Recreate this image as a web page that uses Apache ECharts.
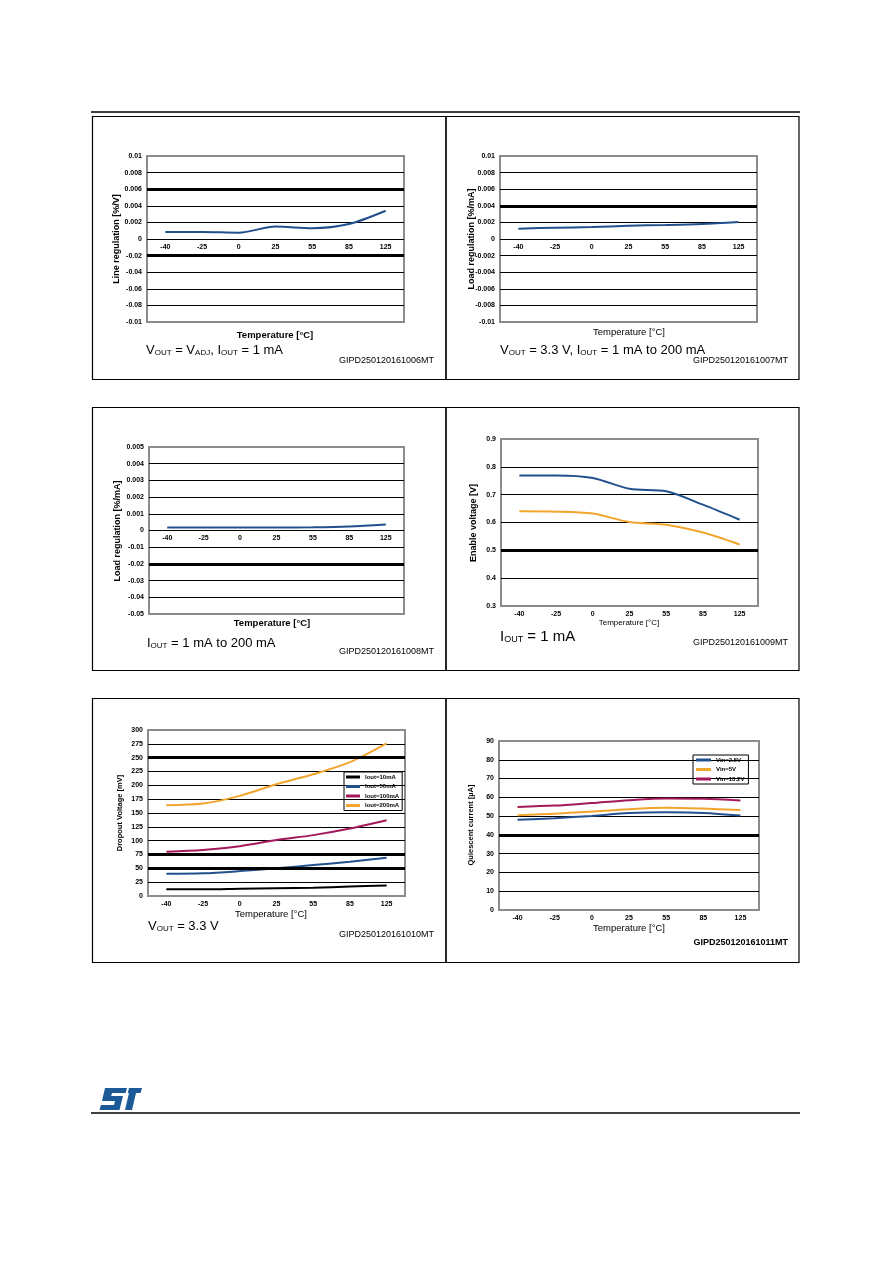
<!DOCTYPE html>
<html>
<head>
<meta charset="utf-8">
<script src="https://cdn.jsdelivr.net/npm/echarts@6/dist/echarts.min.js"></script>
<style>
  html, body { margin: 0; padding: 0; background: #fff; }
  #page { width: 892px; height: 1261px; }
</style>
</head>
<body>
<div id="page"></div>
<script>
var temps = ["-40", "-25", "0", "25", "55", "85", "125"];

// line regulation [%/V], VOUT = VADJ, IOUT = 1 mA
var lineReg = [0.00084, 0.00084, 0.00076, 0.0015, 0.0013, 0.0018, 0.0034];
var lineRegTicks = ["-0.01", "-0.08", "-0.06", "-0.04", "-0.02", "0", "0.002", "0.004", "0.006", "0.008", "0.01"];

// load regulation [%/mA], VOUT = 3.3 V
var loadReg33 = [0.00124, 0.00136, 0.00144, 0.0016, 0.00168, 0.0018, 0.00204];
var loadReg33Ticks = ["-0.01", "-0.008", "-0.006", "-0.004", "-0.002", "0", "0.002", "0.004", "0.006", "0.008", "0.01"];

// load regulation [%/mA], IOUT = 1 mA to 200 mA
var loadReg = [0.00018, 0.00018, 0.00018, 0.00018, 0.00019, 0.00024, 0.00036];
var loadRegTicks = ["-0.05", "-0.04", "-0.03", "-0.02", "-0.01", "0", "0.001", "0.002", "0.003", "0.004", "0.005"];

// enable voltage [V]
var enableHigh = [0.769, 0.769, 0.76, 0.721, 0.712, 0.664, 0.61];
var enableLow = [0.64, 0.639, 0.632, 0.602, 0.592, 0.564, 0.521];

// dropout voltage [mV]
var dropNames = ["Iout=10mA", "Iout=50mA", "Iout=100mA", "Iout=200mA"];
var drop10 = [12, 12, 13, 14, 15, 17, 19];
var drop50 = [40, 41, 45, 50, 56, 62, 69];
var drop100 = [80, 83, 90, 101, 110, 122, 137];
var drop200 = [164, 167, 181, 202, 220, 242, 276];

// quiescent current [uA]
var iqNames = ["Vin=2.5V", "Vin=5V", "Vin=13.2V"];
var iq25 = [48.0, 48.9, 50.1, 51.6, 52.0, 51.7, 50.3];
var iq5 = [50.5, 51.2, 52.4, 53.7, 54.4, 54.0, 53.3];
var iq132 = [54.9, 55.6, 57.0, 58.5, 59.4, 59.2, 58.3];

var arial = "Liberation Sans, Arial, sans-serif";
var narrow = "Liberation Sans Narrow, Liberation Sans, Arial, sans-serif";
var blue = "#22508c", orange = "#f2a52c", magenta = "#a3195b";

function tickText(ticks, min, step) {
  return function (v) {
    return ticks[Math.round((v - min) / step)] || "";
  };
}

// labelMargin < 0 pulls the temperature labels up to the zero line
function xAx(i, labelMargin) {
  return {
    type: "category", gridIndex: i, data: temps, boundaryGap: true,
    axisLine: { show: false, onZero: false },
    axisTick: { show: false },
    splitLine: { show: false },
    axisLabel: { fontSize: 7, fontWeight: "bold", fontFamily: narrow, color: "#000", margin: labelMargin }
  };
}

function yAx(i, min, max, step, ticks) {
  return {
    type: "value", gridIndex: i, min: min, max: max, interval: step,
    axisLine: { show: false }, axisTick: { show: false },
    splitLine: { show: true, showMinLine: false, showMaxLine: false, lineStyle: { color: "#000", width: 1 } },
    axisLabel: {
      fontSize: 7, fontWeight: "bold", fontFamily: narrow, color: "#000", margin: 5,
      formatter: ticks ? tickText(ticks, min, step) : undefined
    }
  };
}

function line(name, data, i, color) {
  return {
    name: name, type: "line", xAxisIndex: i, yAxisIndex: i, data: data,
    smooth: 0.3, symbol: "none", z: 3,
    lineStyle: { color: color, width: 2 }, itemStyle: { color: color }
  };
}

// the heavier gridlines seen in the printed figure
function heavy(i, values) {
  return {
    type: "line", xAxisIndex: i, yAxisIndex: i, data: [], z: 1, silent: true,
    markLine: {
      silent: true, symbol: "none", precision: 6, label: { show: false },
      lineStyle: { color: "#000", width: 3, type: "solid" },
      data: values.map(function (v) { return { yAxis: v }; })
    }
  };
}

function text(x, y, str, size, opts) {
  opts = opts || {};
  var al = opts.align || "center";
  return {
    type: "text", x: x, y: y, rotation: opts.rot || 0, silent: true,
    style: {
      text: str, fill: "#000",
      fontSize: size, fontFamily: opts.family || narrow, fontWeight: opts.weight || "normal",
      align: al, textAlign: al, verticalAlign: "middle", textVerticalAlign: "middle"
    }
  };
}

function richText(x, y, str, size) {
  return {
    type: "text", x: x, y: y, silent: true,
    style: {
      text: str, fill: "#000", align: "left", textAlign: "left",
      verticalAlign: "middle", textVerticalAlign: "middle",
      rich: {
        m: { fontSize: size, fontFamily: arial, fill: "#000", lineHeight: size + 3, verticalAlign: "bottom" },
        s: { fontSize: Math.round(size * 0.6), fontFamily: arial, fill: "#000", lineHeight: Math.round(size * 0.6), verticalAlign: "bottom" }
      }
    }
  };
}

function box(x1, y1, x2, y2) {
  return {
    type: "rect", silent: true,
    shape: { x: x1, y: y1, width: x2 - x1, height: y2 - y1 },
    style: { fill: "none", stroke: "#000", lineWidth: 1.2 }
  };
}

var grids = [
  { left: 147, top: 156, width: 257, height: 166 },
  { left: 500, top: 156, width: 257, height: 166 },
  { left: 149, top: 447, width: 255, height: 167 },
  { left: 501, top: 439, width: 257, height: 167 },
  { left: 148, top: 730, width: 257, height: 166 },
  { left: 499, top: 741, width: 260, height: 169 }
];
grids.forEach(function (g) {
  g.show = true;
  g.borderColor = "#8c8c8c";
  g.borderWidth = 2;
  g.containLabel = false;
});

var chart = echarts.init(document.getElementById("page"), null, { renderer: "canvas" });

var option = {
  backgroundColor: "#fff",
  animation: false,
  grid: grids,
  xAxis: [xAx(0, -78), xAx(1, -78), xAx(2, -79), xAx(3, 5), xAx(4, 5), xAx(5, 5)],
  yAxis: [
    yAx(0, -0.01, 0.01, 0.002, lineRegTicks),
    yAx(1, -0.01, 0.01, 0.002, loadReg33Ticks),
    yAx(2, -0.005, 0.005, 0.001, loadRegTicks),
    yAx(3, 0.3, 0.9, 0.1),
    yAx(4, 0, 300, 25),
    yAx(5, 0, 90, 10)
  ],
  legend: [
    {
      data: dropNames, orient: "vertical", left: 344, top: 772,
      icon: "rect", itemWidth: 14, itemHeight: 3, itemGap: 3.5,
      borderColor: "#000", borderWidth: 1, padding: [2, 3, 2, 2],
      textStyle: { fontSize: 6, fontWeight: "bold", fontFamily: narrow, color: "#000" }
    },
    {
      data: iqNames, orient: "vertical", left: 693, top: 755,
      icon: "rect", itemWidth: 15, itemHeight: 3, itemGap: 3.5,
      borderColor: "#000", borderWidth: 1, padding: [2, 4, 2, 3],
      textStyle: { fontSize: 6, fontWeight: "bold", fontFamily: narrow, color: "#000" }
    }
  ],
  series: [
    heavy(0, [0.006, -0.002]),
    line("Line regulation", lineReg, 0, blue),
    heavy(1, [0.004]),
    line("Load regulation 3.3V", loadReg33, 1, blue),
    heavy(2, [-0.002]),
    line("Load regulation", loadReg, 2, blue),
    heavy(3, [0.5]),
    line("Enable high", enableHigh, 3, blue),
    line("Enable low", enableLow, 3, orange),
    heavy(4, [250, 75, 50]),
    line(dropNames[0], drop10, 4, "#000"),
    line(dropNames[1], drop50, 4, blue),
    line(dropNames[2], drop100, 4, magenta),
    line(dropNames[3], drop200, 4, orange),
    heavy(5, [40]),
    line(iqNames[0], iq25, 5, blue),
    line(iqNames[1], iq5, 5, orange),
    line(iqNames[2], iq132, 5, magenta)
  ],
  graphic: [
    // page rules
    { type: "line", silent: true, shape: { x1: 91, y1: 112, x2: 800, y2: 112 }, style: { stroke: "#000", lineWidth: 1.3 } },
    { type: "line", silent: true, shape: { x1: 91, y1: 1113, x2: 800, y2: 1113 }, style: { stroke: "#000", lineWidth: 1.3 } },
    // figure frames
    box(92.5, 116.5, 446, 379.5), box(446, 116.5, 799, 379.5),
    box(92.5, 407.5, 446, 670.5), box(446, 407.5, 799, 670.5),
    box(92.5, 698.5, 446, 962.5), box(446, 698.5, 799, 962.5),

    // panel 1
    text(117, 239, "Line regulation [%/V]", 9, { rot: Math.PI / 2, weight: "bold" }),
    text(275, 335, "Temperature [\u00b0C]", 9.5, { weight: "bold" }),
    richText(146, 349, "{m|V}{s|OUT}{m| = V}{s|ADJ}{m|, I}{s|OUT}{m| = 1 mA}", 13),
    text(434, 361, "GIPD250120161006MT", 9, { align: "right", family: arial }),

    // panel 2
    text(472, 239, "Load regulation [%/mA]", 9, { rot: Math.PI / 2, weight: "bold" }),
    text(629, 332, "Temperature [\u00b0C]", 9.5),
    richText(500, 349, "{m|V}{s|OUT}{m| = 3.3 V, I}{s|OUT}{m| = 1 mA to 200 mA}", 13),
    text(788, 361, "GIPD250120161007MT", 9, { align: "right", family: arial }),

    // panel 3
    text(118, 531, "Load regulation [%/mA]", 9, { rot: Math.PI / 2, weight: "bold" }),
    text(272, 623, "Temperature [\u00b0C]", 9.5, { weight: "bold" }),
    richText(147, 642, "{m|I}{s|OUT}{m| = 1 mA to 200 mA}", 13),
    text(434, 652, "GIPD250120161008MT", 9, { align: "right", family: arial }),

    // panel 4
    text(474, 523, "Enable voltage [V]", 9, { rot: Math.PI / 2, weight: "bold" }),
    text(629, 623, "Temperature [\u00b0C]", 8),
    richText(500, 635, "{m|I}{s|OUT}{m| = 1 mA}", 15),
    text(788, 643, "GIPD250120161009MT", 9, { align: "right", family: arial }),

    // panel 5
    text(120, 813, "Dropout Voltage [mV]", 7.5, { rot: Math.PI / 2, weight: "bold" }),
    text(271, 914, "Temperature [\u00b0C]", 9.5),
    richText(148, 925, "{m|V}{s|OUT}{m| = 3.3 V}", 13),
    text(434, 935, "GIPD250120161010MT", 9, { align: "right", family: arial }),

    // panel 6
    text(471, 825, "Quiescent current [\u00b5A]", 7.5, { rot: Math.PI / 2, weight: "bold" }),
    text(629, 928, "Temperature [\u00b0C]", 9.5),
    text(788, 943, "GIPD250120161011MT", 9, { align: "right", family: arial, weight: "bold" }),

    // ST logo
    {
      type: "polygon", silent: true,
      shape: { points: [[105, 1088], [127, 1088], [125.6, 1093], [112, 1093], [111.2, 1096], [123, 1096], [119.5, 1110], [99.5, 1110], [101, 1105], [114, 1105], [115, 1101], [102, 1101]] },
      style: { fill: "#1c5a98" }
    },
    {
      type: "polygon", silent: true,
      shape: { points: [[129, 1088], [142, 1088], [140.6, 1093], [136, 1093], [132, 1110], [125, 1110], [129, 1093], [127.8, 1093]] },
      style: { fill: "#1c5a98" }
    }
  ]
};

chart.setOption(option);
</script>
</body>
</html>
